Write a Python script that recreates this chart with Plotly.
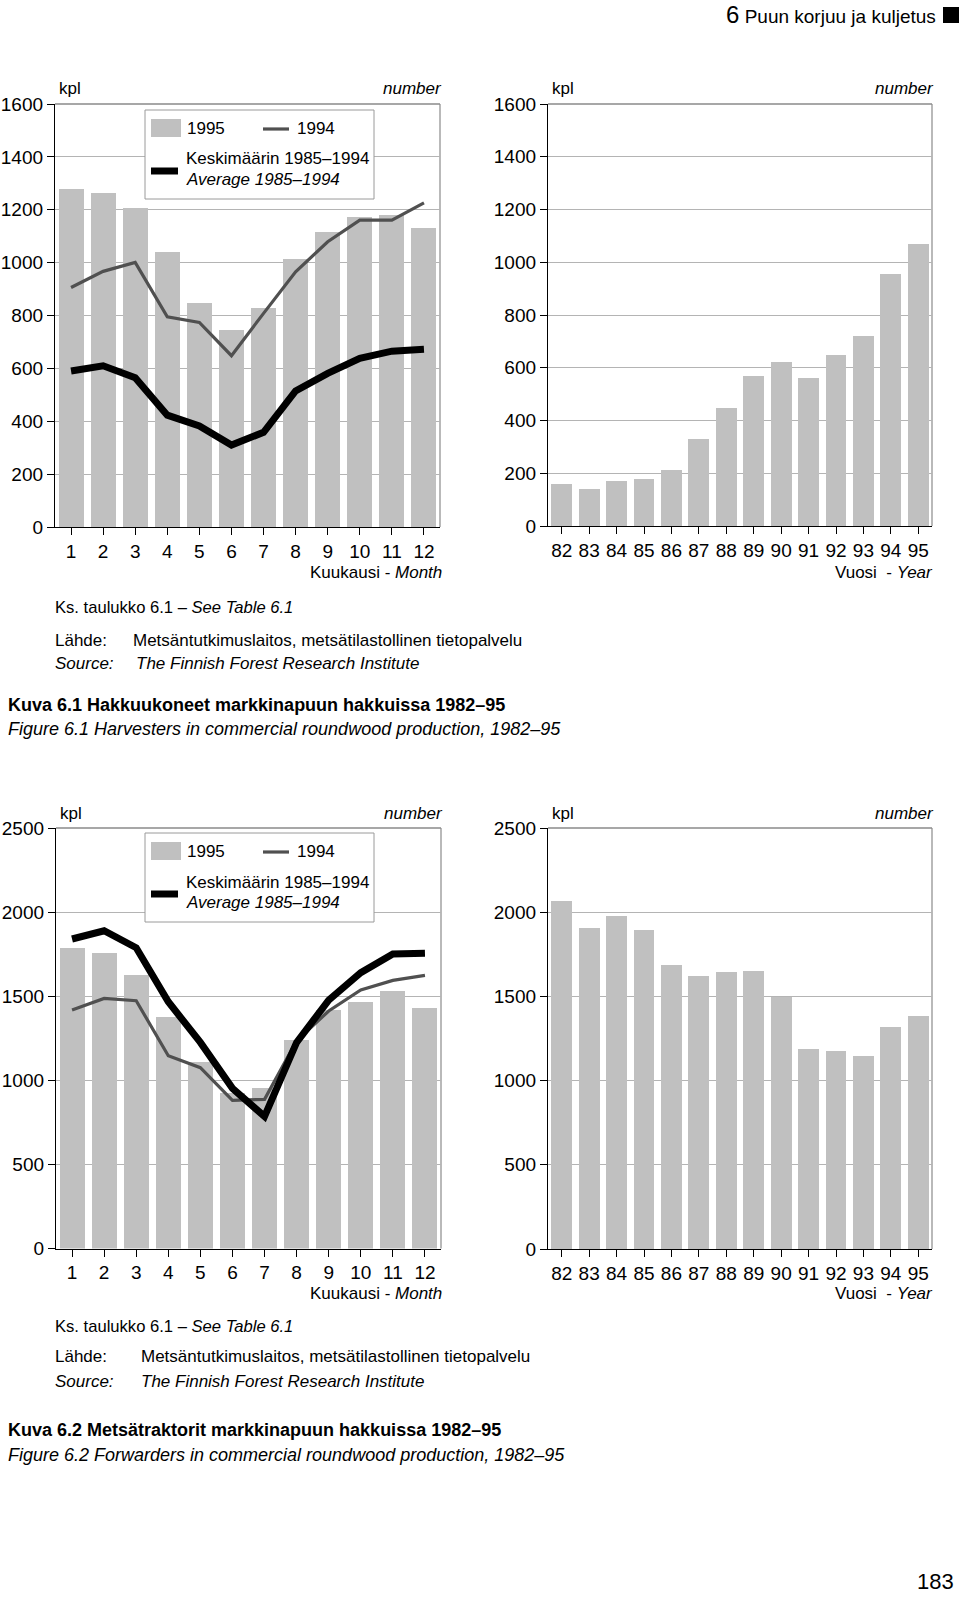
import plotly.graph_objects as go

# ---------------- data ----------------
months = list(range(1, 13))
years = list(range(82, 96))

harv_1995 = [1280, 1265, 1205, 1042, 848, 744, 828, 1013, 1115, 1172, 1182, 1132]
harv_1994 = [906, 967, 1001, 795, 774, 648, 808, 965, 1079, 1161, 1161, 1226]
harv_avg = [590, 610, 565, 423, 382, 310, 358, 515, 581, 638, 665, 672]
harv_years = [158, 139, 170, 180, 211, 328, 448, 570, 623, 561, 648, 722, 957, 1071]

fwd_1995 = [1788, 1759, 1628, 1376, 1111, 926, 952, 1238, 1418, 1466, 1533, 1432]
fwd_1994 = [1418, 1487, 1473, 1146, 1075, 881, 887, 1235, 1412, 1537, 1594, 1624]
fwd_avg = [1840, 1889, 1788, 1467, 1225, 952, 785, 1225, 1477, 1640, 1751, 1755]
fwd_years = [2067, 1909, 1978, 1897, 1685, 1620, 1642, 1650, 1498, 1185, 1177, 1147, 1316, 1383]

# ---------------- style ----------------
W, H = 960, 1597
FONT = "Liberation Sans, Arial, Helvetica, sans-serif"
BAR = "#c0c0c0"
L94 = "#505050"
GRID = "#b4b4b4"
FRAME = "#8a8a8a"


def px(x):
    return x / W


def py(y):
    return 1 - y / H


fig = go.Figure()

# panels: (x0, x1, y_top, y_bottom)
panels = {
    1: (55, 440, 104, 527),
    2: (548, 932, 104, 526),
    3: (56, 441, 828, 1248.5),
    4: (548, 932, 828, 1249),
}

fig.add_trace(go.Bar(x=months, y=harv_1995, width=0.78, marker=dict(color=BAR, line=dict(width=0)),
                     xaxis="x", yaxis="y", showlegend=False))
fig.add_trace(go.Scatter(x=months, y=harv_1994, mode="lines", line=dict(color=L94, width=3.2),
                         xaxis="x", yaxis="y", showlegend=False))
fig.add_trace(go.Scatter(x=months, y=harv_avg, mode="lines", line=dict(color="black", width=7),
                         xaxis="x", yaxis="y", showlegend=False))
fig.add_trace(go.Bar(x=years, y=harv_years, width=0.76, marker=dict(color=BAR, line=dict(width=0)),
                     xaxis="x2", yaxis="y2", showlegend=False))
fig.add_trace(go.Bar(x=months, y=fwd_1995, width=0.78, marker=dict(color=BAR, line=dict(width=0)),
                     xaxis="x3", yaxis="y3", showlegend=False))
fig.add_trace(go.Scatter(x=months, y=fwd_1994, mode="lines", line=dict(color=L94, width=3.2),
                         xaxis="x3", yaxis="y3", showlegend=False))
fig.add_trace(go.Scatter(x=months, y=fwd_avg, mode="lines", line=dict(color="black", width=7),
                         xaxis="x3", yaxis="y3", showlegend=False))
fig.add_trace(go.Bar(x=years, y=fwd_years, width=0.76, marker=dict(color=BAR, line=dict(width=0)),
                     xaxis="x4", yaxis="y4", showlegend=False))

layout = dict(
    width=W, height=H, autosize=False,
    margin=dict(l=0, r=0, t=0, b=0, pad=0, autoexpand=False),
    paper_bgcolor="white", plot_bgcolor="white",
    font=dict(family=FONT, color="black"),
    bargap=0, showlegend=False,
)

axis_specs = {
    1: dict(xr=[0.5, 12.5], xt=months, yr=[0, 1600], dt=200),
    2: dict(xr=[81.5, 95.5], xt=years, yr=[0, 1600], dt=200),
    3: dict(xr=[0.5, 12.5], xt=months, yr=[0, 2500], dt=500),
    4: dict(xr=[81.5, 95.5], xt=years, yr=[0, 2500], dt=500),
}

shapes = []
annotations = []

for i, (x0, x1, yt, yb) in panels.items():
    s = axis_specs[i]
    sx = "" if i == 1 else str(i)
    layout["xaxis" + sx] = dict(
        domain=[px(x0), px(x1)], range=s["xr"], anchor="y" + sx,
        tickvals=s["xt"], ticktext=[str(v) for v in s["xt"]],
        showline=True, linecolor="black", linewidth=1.3,
        ticks="outside", ticklen=7, tickcolor="black", tickwidth=1,
        showgrid=False, zeroline=False, fixedrange=True, automargin=False,
        tickfont=dict(size=19, family=FONT, color="black"),
    )
    layout["yaxis" + sx] = dict(
        domain=[py(yb), py(yt)], range=s["yr"], anchor="x" + sx,
        dtick=s["dt"], tick0=0,
        showline=True, linecolor="black", linewidth=1.3,
        ticks="outside", ticklen=7, tickcolor="black", tickwidth=1,
        showgrid=True, gridcolor=GRID, gridwidth=1,
        zeroline=False, fixedrange=True, automargin=False,
        tickfont=dict(size=19, family=FONT, color="black"),
    )
    shapes.append(dict(type="line", xref="paper", yref="paper", x0=px(x0), x1=px(x1),
                       y0=py(yt), y1=py(yt), line=dict(color=FRAME, width=1.5), layer="below"))
    shapes.append(dict(type="line", xref="paper", yref="paper", x0=px(x1), x1=px(x1),
                       y0=py(yt), y1=py(yb), line=dict(color=FRAME, width=1.2), layer="below"))


def txt(x, y, text, size=17, anchor="left", bold=False, italic=False, vanchor="middle"):
    t = text
    if italic:
        t = "<i>" + t + "</i>"
    if bold:
        t = "<b>" + t + "</b>"
    annotations.append(dict(xref="paper", yref="paper", x=px(x), y=py(y), text=t,
                            showarrow=False, xanchor=anchor, yanchor=vanchor, borderpad=0,
                            font=dict(size=size, family=FONT, color="black")))


# header
txt(937, 15, "<span style='font-size:24px'>6</span> Puun korjuu ja kuljetus", size=19, anchor="right")
shapes.append(dict(type="rect", xref="paper", yref="paper", x0=px(943), x1=px(959),
                   y0=py(23), y1=py(7), fillcolor="black", line=dict(width=0)))

# unit labels
for (x0, x1, yt, yb) in panels.values():
    txt(x0 + 3, yt - 15, "kpl", 17)
    txt(x1 + 3, yt - 15, "number", 17, anchor="right", italic=True)

# x-axis titles
txt(443, 572, "Kuukausi - <i>Month</i>", 17, anchor="right")
txt(934, 572, "Vuosi  - <i>Year</i>", 17, anchor="right")
txt(443, 1293, "Kuukausi - <i>Month</i>", 17, anchor="right")
txt(934, 1293, "Vuosi  - <i>Year</i>", 17, anchor="right")


def legend(top):
    shapes.append(dict(type="rect", xref="paper", yref="paper", x0=px(145), x1=px(374),
                       y0=py(top + 89), y1=py(top), line=dict(color="#9a9a9a", width=1),
                       fillcolor="white", layer="above"))
    shapes.append(dict(type="rect", xref="paper", yref="paper", x0=px(151), x1=px(181),
                       y0=py(top + 27), y1=py(top + 9), fillcolor=BAR, line=dict(width=0),
                       layer="above"))
    shapes.append(dict(type="line", xref="paper", yref="paper", x0=px(263), x1=px(289),
                       y0=py(top + 19), y1=py(top + 19), line=dict(color=L94, width=3.2),
                       layer="above"))
    shapes.append(dict(type="line", xref="paper", yref="paper", x0=px(151), x1=px(178),
                       y0=py(top + 61), y1=py(top + 61), line=dict(color="black", width=7),
                       layer="above"))
    txt(186, top + 19, "1995", 17)
    txt(296, top + 19, "1994", 17)
    txt(185, top + 49, "Keskimäärin 1985–1994", 17)
    txt(185, top + 69, "Average 1985–1994", 17, italic=True)


legend(110)
legend(833)

# notes under top charts
txt(54, 607, "Ks. taulukko 6.1 – <i>See Table 6.1</i>", 16.6)
txt(54, 640, "Lähde:", 17)
txt(132, 640, "Metsäntutkimuslaitos, metsätilastollinen tietopalvelu", 17)
txt(54, 664, "Source:", 17, italic=True)
txt(135, 664, "The Finnish Forest Research Institute", 17, italic=True)
txt(7, 705, "Kuva 6.1 Hakkuukoneet markkinapuun hakkuissa 1982–95", 18, bold=True)
txt(7, 729, "Figure 6.1 Harvesters in commercial roundwood production, 1982–95", 18, italic=True)

# notes under bottom charts
txt(54, 1326, "Ks. taulukko 6.1 – <i>See Table 6.1</i>", 16.6)
txt(54, 1356, "Lähde:", 17)
txt(140, 1356, "Metsäntutkimuslaitos, metsätilastollinen tietopalvelu", 17)
txt(54, 1381, "Source:", 17, italic=True)
txt(140, 1381, "The Finnish Forest Research Institute", 17, italic=True)
txt(7, 1430, "Kuva 6.2 Metsätraktorit markkinapuun hakkuissa 1982–95", 18, bold=True)
txt(7, 1455, "Figure 6.2 Forwarders in commercial roundwood production, 1982–95", 18, italic=True)

# page number
txt(955, 1595, "183", 22, anchor="right", vanchor="bottom")

layout["shapes"] = shapes
layout["annotations"] = annotations
fig.update_layout(**layout)

fig.write_html(
    "out.html",
    config={"displayModeBar": False},
    post_script=(
        "var d=document.getElementById('{plot_id}');"
        "d.style.position='absolute';d.style.top='0px';d.style.left='0px';"
        "document.documentElement.style.margin='0';document.documentElement.style.padding='0';"
        "document.body.style.margin='0';document.body.style.padding='0';"
        "document.documentElement.style.overflow='hidden';document.body.style.overflow='hidden';"
    ),
)
